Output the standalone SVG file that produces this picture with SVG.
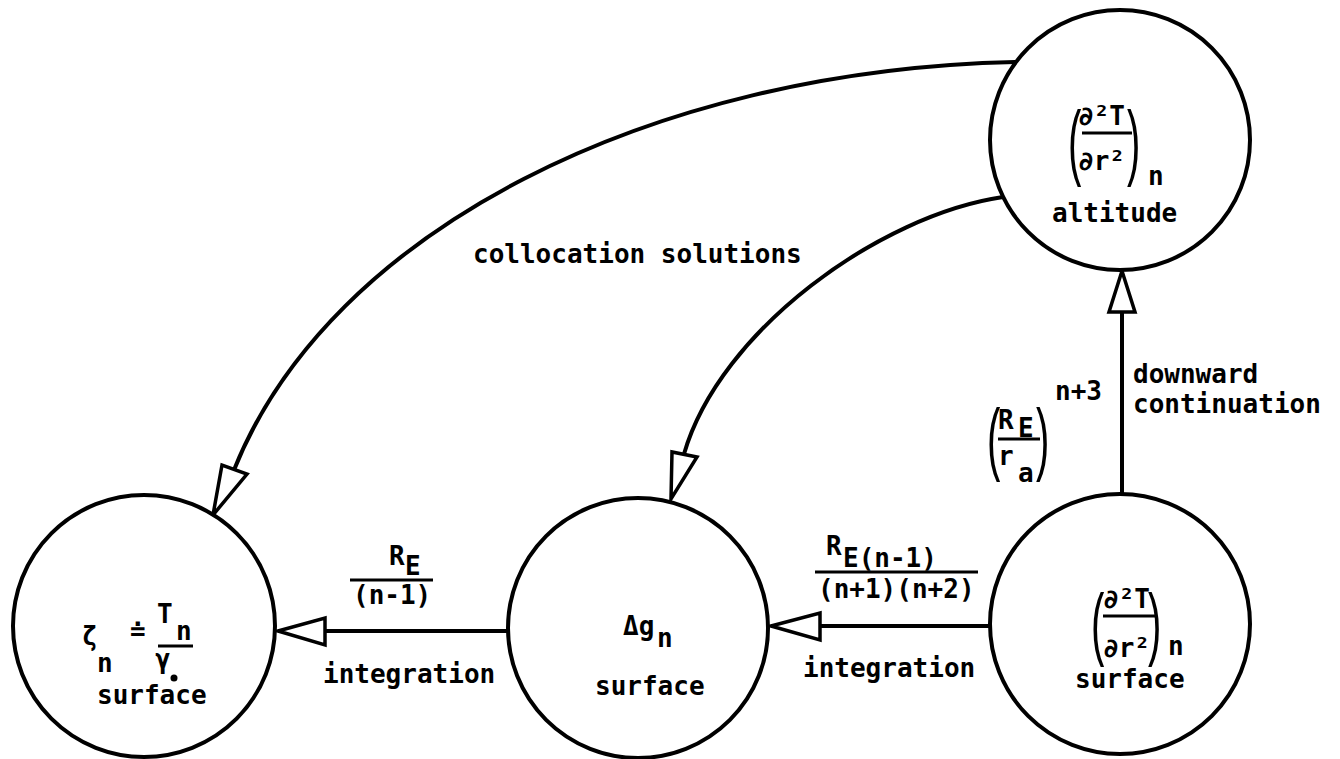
<svg xmlns="http://www.w3.org/2000/svg" width="1340" height="759" viewBox="0 0 1340 759">
  <style>
    .node { fill: #fff; stroke: #000; stroke-width: 4; }
    .edge { fill: none; stroke: #000; stroke-width: 4; stroke-linecap: round; }
    .head { fill: #fff; stroke: #000; stroke-width: 3.5; stroke-linejoin: miter; }
    .bar { stroke: #000; stroke-width: 3; }
    text { font-family: "DejaVu Sans Mono", "Liberation Mono", monospace; font-size: 26px; font-weight: bold; fill: #000; }
    .paren { font-family: "Liberation Sans", sans-serif; font-weight: normal; font-size: 40px; }
  </style>
  <rect width="1340" height="759" fill="#fff"/>

  <!-- connectors -->
  <g id="connectors">
    <!-- collocation: altitude -> zeta -->
    <path class="edge" d="M1015,62 C650,70 330,230 234,470"/>
    <polygon class="head" points="213,515 222,465 247,474"/>
    <!-- collocation: altitude -> delta g -->
    <path class="edge" d="M1003,197 C880,215 720,330 684,454"/>
    <polygon class="head" points="671,499 672,452 697,457"/>
    <!-- downward continuation -->
    <line class="edge" x1="1122" y1="493" x2="1122" y2="312"/>
    <polygon class="head" points="1122,271 1109,312 1135,312"/>
    <!-- integration: surface gradient -> delta g -->
    <line class="edge" x1="990" y1="626" x2="820" y2="626"/>
    <polygon class="head" points="771,626 820,613 820,640"/>
    <!-- integration: delta g -> zeta -->
    <line class="edge" x1="508" y1="631" x2="325" y2="631"/>
    <polygon class="head" points="278,631 325,618 325,645"/>
  </g>

  <!-- edge labels -->
  <g id="labels">
    <text x="473" y="263">collocation solutions</text>

    <text x="389" y="565">R</text>
    <text x="405" y="575">E</text>
    <line class="bar" x1="350" y1="580" x2="433" y2="580"/>
    <text x="353" y="604">(n-1)</text>
    <text x="323" y="683">integration</text>

    <text x="826" y="555">R</text>
    <text x="843" y="567">E(n-1)</text>
    <line class="bar" x1="815" y1="572" x2="978" y2="572"/>
    <text x="818" y="598">(n+1)(n+2)</text>
    <text x="803" y="677">integration</text>

    <text class="paren" transform="translate(987,465) scale(1,2)">(</text>
    <text x="998" y="429">R</text>
    <text x="1018" y="437">E</text>
    <line class="bar" x1="998" y1="439" x2="1040" y2="439"/>
    <text x="998" y="465">r</text>
    <text x="1018" y="482">a</text>
    <text class="paren" transform="translate(1036,465) scale(1,2)">)</text>
    <text x="1055" y="400">n+3</text>
    <text x="1133" y="383">downward</text>
    <text x="1133" y="413">continuation</text>
  </g>

  <!-- altitude node -->
  <g id="node-altitude">
    <circle class="node" cx="1120" cy="140" r="130"/>
    <text class="paren" transform="translate(1068,170) scale(1,2.1)">(</text>
    <text x="1078" y="125">∂²T</text>
    <line class="bar" x1="1082" y1="133" x2="1132" y2="133"/>
    <text x="1078" y="170">∂r²</text>
    <text class="paren" transform="translate(1127,170) scale(1,2.1)">)</text>
    <text x="1148" y="185">n</text>
    <text x="1052" y="222">altitude</text>
  </g>

  <!-- surface gradient node -->
  <g id="node-surface-gradient">
    <circle class="node" cx="1120" cy="624" r="130"/>
    <text class="paren" transform="translate(1091,650) scale(1,2)">(</text>
    <text x="1103" y="608">∂²T</text>
    <line class="bar" x1="1103" y1="616" x2="1155" y2="616"/>
    <text x="1103" y="657">∂r²</text>
    <text class="paren" transform="translate(1148,650) scale(1,2)">)</text>
    <text x="1168" y="655">n</text>
    <text x="1075" y="688">surface</text>
  </g>

  <!-- gravity anomaly node -->
  <g id="node-delta-g">
    <circle class="node" cx="638" cy="628" r="130"/>
    <text x="623" y="635">Δg</text>
    <text x="657" y="647">n</text>
    <text x="595" y="695">surface</text>
  </g>

  <!-- geoid height node -->
  <g id="node-zeta">
    <circle class="node" cx="144" cy="626" r="131"/>
    <text x="82" y="645">ζ</text>
    <text x="97" y="672">n</text>
    <text x="130" y="640">≐</text>
    <text x="157" y="623">T</text>
    <text x="176" y="640">n</text>
    <line class="bar" x1="158" y1="646" x2="193" y2="646"/>
    <text x="155" y="668">γ</text>
    <circle cx="174" cy="678" r="3.5" fill="#000"/>
    <text x="97" y="704">surface</text>
  </g>
</svg>
